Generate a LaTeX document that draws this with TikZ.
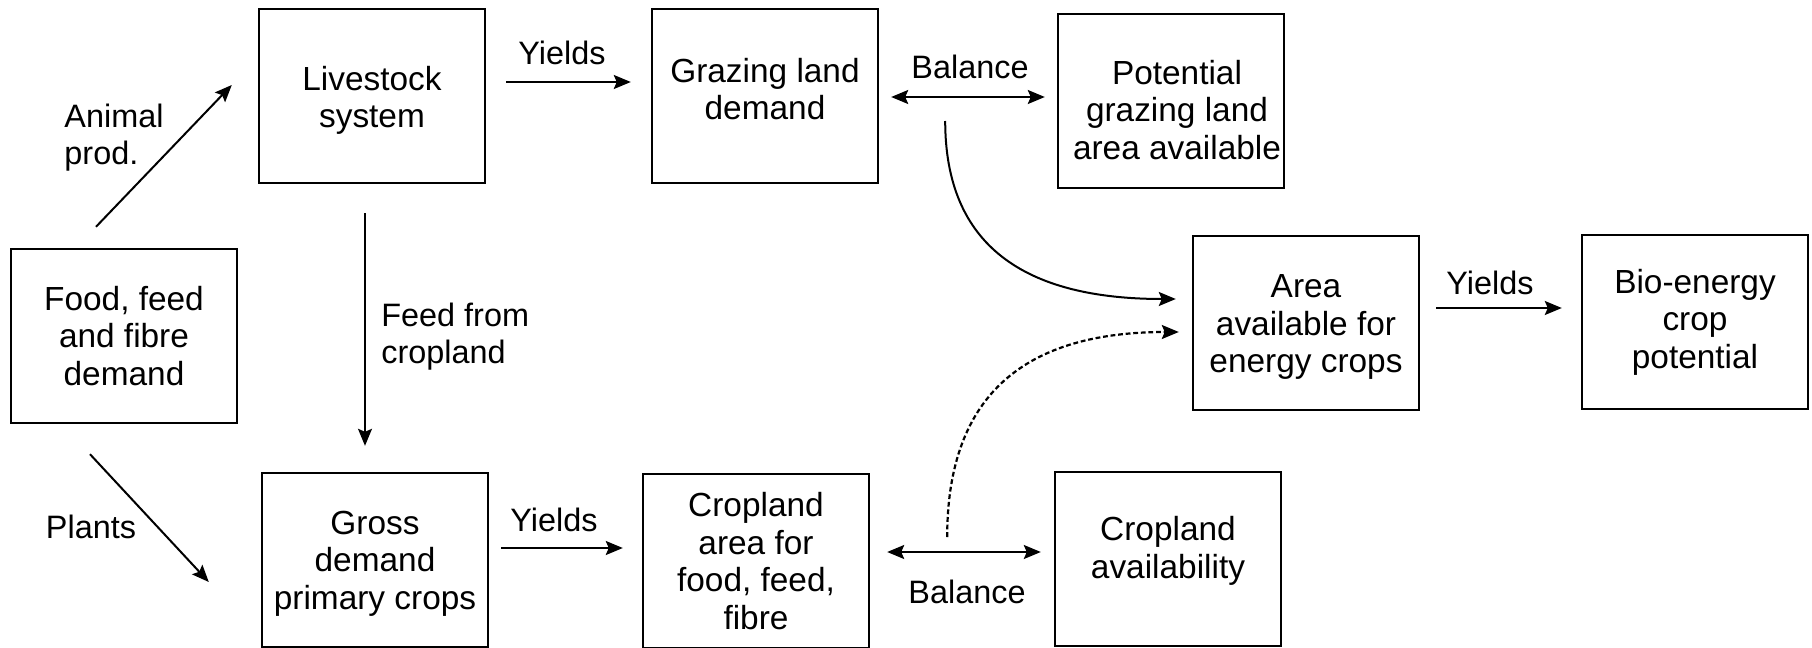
\documentclass[tikz,border=0pt]{standalone}
\usepackage{fontspec}
\setmainfont{Liberation Sans}
\usetikzlibrary{arrows.meta,calc}
% vertical nudges for box texts: extra height on a first line, extra depth on a last line
\newcommand{\tallstrut}[1]{\rule{0pt}{#1}}
\newcommand{\deepstrut}[1]{\rule[-#1]{0pt}{0pt}}
\begin{document}
\begin{tikzpicture}[x=0.5pt,y=-0.5pt,
  txt/.style={font=\fontsize{16.7}{18.7}\selectfont},
  box/.style={txt, draw, line width=1.2pt, minimum width=113pt, minimum height=87pt,
    inner sep=0pt, align=center},
  lbl/.style={inner sep=0pt, font=\fontsize{16.2}{18.5}\selectfont},
  tip/.tip={Stealth[length=8.5pt,width=7pt,inset=1.5pt]},
  flow/.style={line width=1pt, -tip},
  thinflow/.style={line width=0.7pt, -tip},
  twoway/.style={line width=1pt, tip-tip},
  dotflow/.style={line width=1.1pt, -tip, dash pattern=on 2.4pt off 1.4pt},
]
\useasboundingbox (0,0) rectangle (1812,648);

% boxes
\node[box] (food)  at (124,336)  {Food, feed\\and fibre\\demand};
\node[box] (live)  at (372,96)   {\tallstrut{16.7pt}Livestock\\system};
\node[box] (graze) at (765,96)   {Grazing land\\demand\deepstrut{7pt}};
\node[box] (pot)   at (1171,101) {\hspace*{6pt}\tallstrut{21pt}Potential\\\hspace*{6pt}grazing land\\\hspace*{6pt}area available};
\node[box] (area)  at (1306,323) {\tallstrut{15.7pt}Area\\available for\\energy crops};
\node[box] (bio)   at (1695,322) {Bio-energy\\crop\\potential};
\node[box] (gross) at (375,560)  {\tallstrut{15.2pt}Gross\\demand\\primary crops};
\node[box] (crop)  at (756,561)  {Cropland\\area for\\food, feed,\\fibre};
\node[box] (avail) at (1168,559) {Cropland\\availability\deepstrut{11.5pt}};

% labels
\node[lbl] (yl1) at (562,53) {Yields};
\node[lbl] (bl1) at (970,67) {Balance};
\node[lbl, align=left] (anim) at (114,138) {Animal\\prod.};
\node[lbl, align=left, anchor=west] (feedl) at (381,337) {Feed from\\cropland};
\node[lbl] (plants) at (91,527) {Plants};
\node[lbl] (yl2) at (554,520) {Yields};
\node[lbl] (bl2) at (967,592) {Balance};
\node[lbl] (yl3) at (1490,283) {Yields};

% connectors
\draw[flow] ($(food.north)+(-28,-21)$) -- ($(live.west)+(-26,-11)$);
\draw[flow] ($(food.south)+(-34,30)$) -- ($(gross.west)+(-52,22)$);
\draw[flow] ($(live.east)+(20,-14)$) -- ($(graze.west)+(-20,-14)$);
\draw[thinflow] ($(live.south)+(-7,29)$) -- ($(gross.north)+(-10,-26)$);
\draw[flow] ($(gross.east)+(12,-12)$) -- ($(crop.west)+(-19,-13)$);
\draw[twoway] ($(graze.east)+(12,1)$) -- ($(pot.west)+(-12,-4)$);
\draw[twoway] ($(crop.east)+(17,-9)$) -- ($(avail.west)+(-13,-7)$);
\draw[flow] ($(graze.east)+(66,25)$) .. controls +(0,125) and +(-151,0) .. ($(area.west)+(-16,-24)$);
\draw[dotflow] ($(crop.east)+(77,-24)$) .. controls +(0,-144) and +(-152,0) .. ($(area.west)+(-13,9)$);
\draw[flow] ($(area.east)+(16,-15)$) -- ($(bio.west)+(-19,-14)$);
\end{tikzpicture}
\end{document}
